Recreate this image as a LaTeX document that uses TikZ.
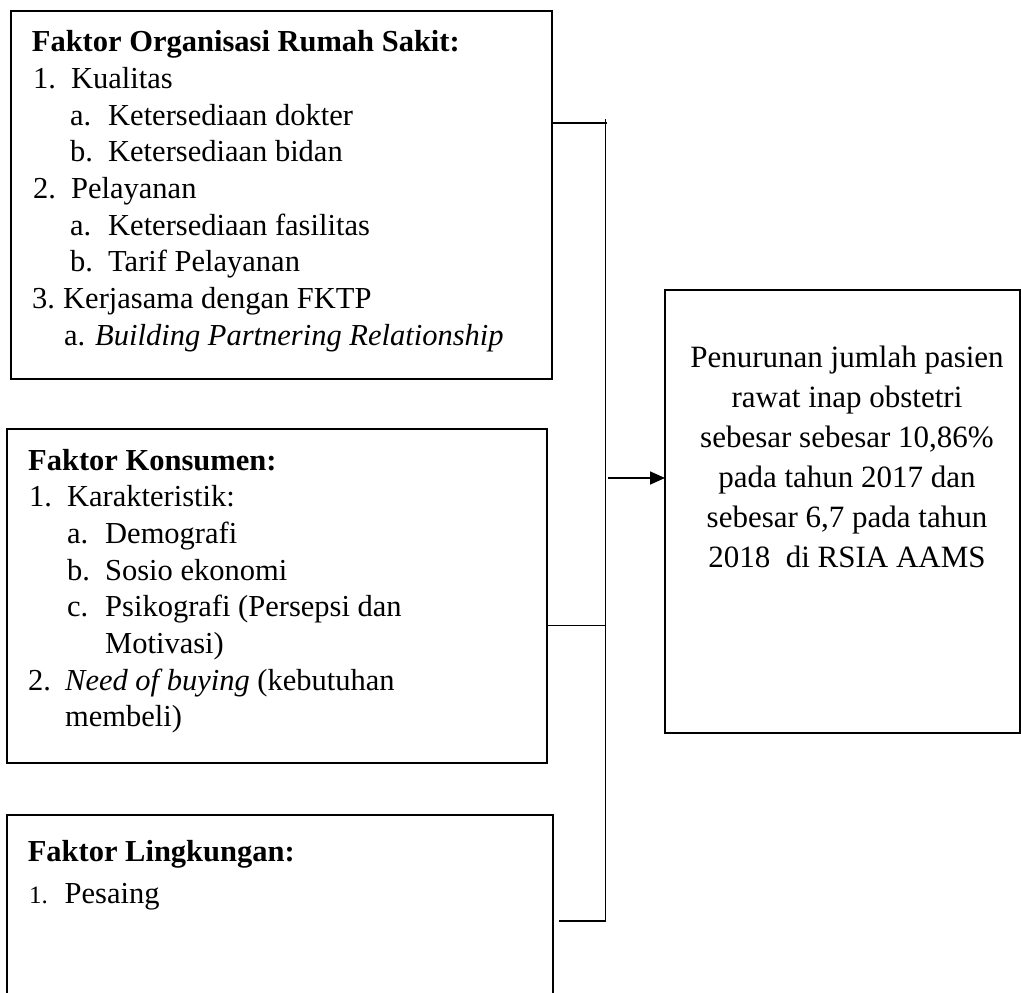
\documentclass[tikz,border=0pt]{standalone}
\usepackage{fontspec}
\setmainfont{Liberation Serif}
\usetikzlibrary{arrows.meta}
\begin{document}
\begin{tikzpicture}[x=1pt,y=-1pt,
  box/.style={draw, line width=1.8pt, inner sep=0pt, outer sep=0pt, anchor=north west},
  ln/.style={anchor=base west, inner sep=0pt, font=\fontsize{30.5}{36.7}\selectfont},
  lnb/.style={anchor=base west, inner sep=0pt, font=\fontsize{30.5}{36.7}\selectfont\bfseries},
  lnbig/.style={anchor=base west, inner sep=0pt, font=\fontsize{30.5}{40}\selectfont},
  rt/.style={anchor=base, inner sep=0pt, font=\fontsize{31}{40}\selectfont},
  conn/.style={line width=1.7pt}]
\useasboundingbox (0,0) rectangle (1021,993);

% boxes
\node[box, minimum width=541pt, minimum height=368pt] (b1) at (11,11) {};
\node[box, minimum width=540pt, minimum height=334pt] (b2) at (7,429) {};
\node[box, minimum width=546pt, minimum height=220pt] (b3) at (7,814.6) {};
\node[box, minimum width=355pt, minimum height=443pt] (rb) at (665,290) {};

% box 1 text
\node[lnb] (t1) at (31.7,51.7) {Faktor Organisasi Rumah Sakit:};
\node[ln] (t2) at (33,88.3) {\makebox[38pt][l]{1.}Kualitas};
\node[ln] (t3) at (70,125) {\makebox[38pt][l]{a.}Ketersediaan dokter};
\node[ln] (t4) at (70,161.7) {\makebox[38pt][l]{b.}Ketersediaan bidan};
\node[ln] (t5) at (33,198.3) {\makebox[38pt][l]{2.}Pelayanan};
\node[ln] (t6) at (70,235) {\makebox[38pt][l]{a.}Ketersediaan fasilitas};
\node[ln] (t7) at (70,271.7) {\makebox[38pt][l]{b.}Tarif Pelayanan};
\node[ln] (t8) at (32,308.3) {\makebox[31pt][l]{3.}Kerjasama dengan FKTP};
\node[ln] (t9) at (64,345) {\makebox[31pt][l]{a.}\textit{Building Partnering Relationship}};

% box 2 text
\node[lnb] (k1) at (28,470) {Faktor Konsumen:};
\node[ln] (k2) at (29,506.7) {\makebox[38pt][l]{1.}Karakteristik:};
\node[ln] (k3) at (67,543.3) {\makebox[38pt][l]{a.}Demografi};
\node[ln] (k4) at (67,580) {\makebox[38pt][l]{b.}Sosio ekonomi};
\node[ln] (k5) at (67,616.7) {\makebox[38pt][l]{c.}Psikografi (Persepsi dan};
\node[ln] (k6) at (105,653.3) {Motivasi)};
\node[ln] (k7) at (28,690) {\makebox[37pt][l]{2.}\textit{Need of buying} (kebutuhan};
\node[ln] (k8) at (65,726.7) {membeli)};

% box 3 text
\node[lnbig, font=\fontsize{30.5}{40}\selectfont\bfseries] (l1) at (27.6,861) {Faktor Lingkungan:};
\node[ln, font=\fontsize{25}{30}\selectfont] (l2) at (29,903.5) {1.};
\node[lnbig] (l3) at (64.5,903.5) {Pesaing};

% right box text
\node[rt] (r1) at (847,367) {Penurunan jumlah pasien};
\node[rt] (r2) at (847,407) {rawat inap obstetri};
\node[rt] (r3) at (847,447) {sebesar sebesar 10,86\%};
\node[rt] (r4) at (847,487) {pada tahun 2017 dan};
\node[rt] (r5) at (847,527) {sebesar 6,7 pada tahun};
\node[rt] (r6) at (847,567) {2018\ \ di RSIA AAMS};

% connectors
\coordinate (vtop) at (605.5,119);
\coordinate (vbot) at (605.5,921.5);
\draw[conn] (vtop) -- (vbot);
\coordinate (j1) at (607,123);
\draw[conn] (b1.east |- j1) -- (j1);
\coordinate (j2) at (605,625.5);
\draw[conn] (b2.east |- j2) -- (j2);
\coordinate (j3s) at (559,921);
\coordinate (j3) at (606,921);
\draw[conn] (j3s) -- (j3);
\coordinate (a0) at (608,478);
\draw[conn, -{Triangle[length=15pt,width=13pt]}] (a0) -- (rb.west |- a0);
\end{tikzpicture}
\end{document}
